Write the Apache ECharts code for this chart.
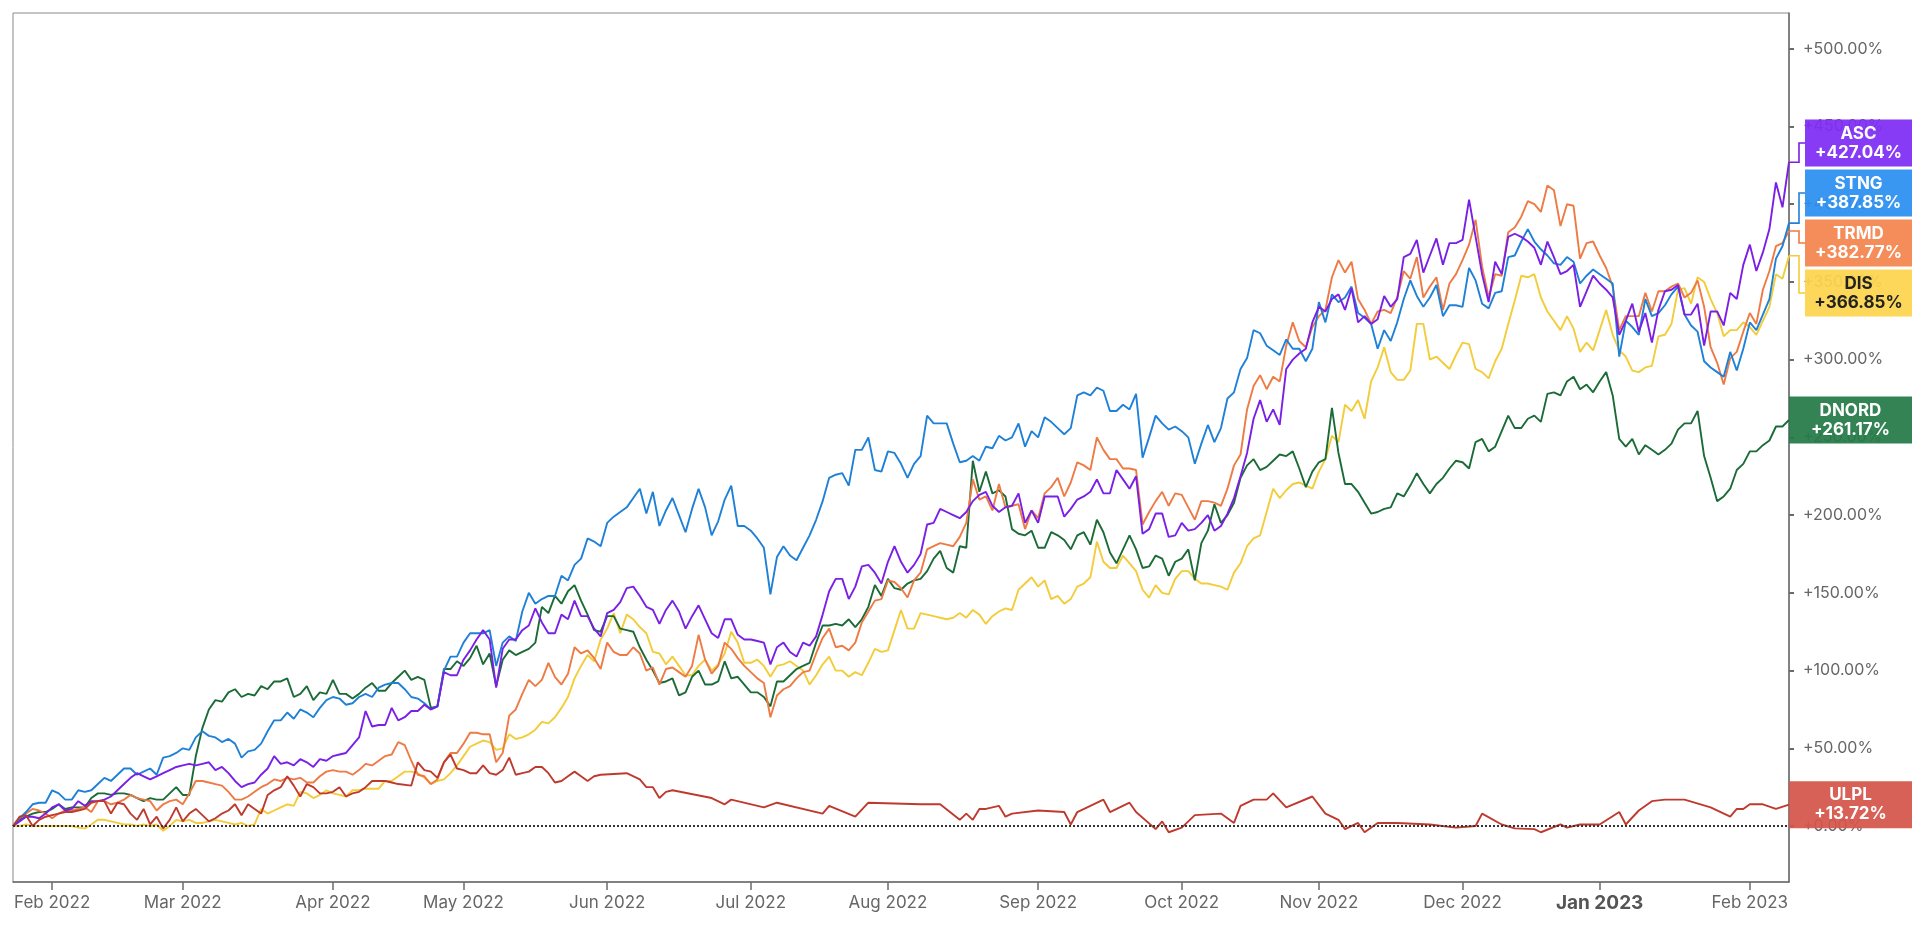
<!DOCTYPE html>
<html>
<head>
<meta charset="utf-8">
<title>ASC, STNG, TRMD, DIS, DNORD, ULPL - % change</title>
<script src="https://cdn.jsdelivr.net/npm/echarts@6/dist/echarts.min.js"></script>
<style>
  html, body { margin: 0; padding: 0; background: #fff; }
  #chart { width: 1920px; height: 929px; }
</style>
</head>
<body>
<div id="chart"></div>
<script>
// x = trading day number (0 = 24 Jan 2022), y = % change since day 0
var monthTicks  = [6, 26, 49, 69, 91, 113, 134, 157, 179, 200, 222, 243, 266];
var monthLabels = ['Feb 2022', 'Mar 2022', 'Apr 2022', 'May 2022', 'Jun 2022', 'Jul 2022',
                   'Aug 2022', 'Sep 2022', 'Oct 2022', 'Nov 2022', 'Dec 2022', 'Jan 2023', 'Feb 2023'];
var pctTicks = [0, 50, 100, 150, 200, 250, 300, 350, 400, 450, 500];

var tickers = ['ASC', 'STNG', 'TRMD', 'DIS', 'DNORD', 'ULPL'];

var asc = [
  0,3,6,6,5,8,12,14,10,11, 16,13,16,16,17,19,23,27,31,34, 32,30,32,34,36,38,39,40,39,40,
  41,36,38,34,29,25,27,28,33,37, 45,40,41,39,43,41,38,43,42,45, 46,47,52,57,74,64,65,65,76,68,
  70,74,74,78,75,77,99,97,97,107, 113,120,126,120,89,114,120,120,126,129, 140,131,124,124,136,133,145,135,135,127,
  122,137,139,144,153,154,148,141,139,130, 139,145,138,127,135,142,133,124,121,133, 133,123,120,120,119,118,104,115,118,112,
  109,118,116,122,136,151,159,159,146,154, 167,168,163,156,170,180,170,163,168,175, 194,195,204,202,200,198,202,209,213,215,
  206,202,205,206,214,195,203,195,212,212, 212,199,204,210,212,215,223,214,214,229, 223,217,225,188,191,201,201,186,187,195,
  190,191,195,200,190,193,201,211,225,240, 262,274,260,268,258,294,300,304,307,324, 334,331,339,342,332,346,324,328,323,326,
  341,334,339,366,368,377,356,367,378,361, 375,375,377,403,379,355,337,363,355,379, 381,379,376,372,361,376,366,355,357,361,
  334,344,354,349,345,340,316,325,336,318, 330,311,332,344,345,348,329,329,336,309, 331,331,322,343,339,361,374,357,369,384,
  414,398,427.04
];

var stng = [
  0,5,9,14,15,15,23,21,17,17, 23,22,23,27,31,29,33,37,37,33, 35,37,33,44,45,47,50,49,57,61,
  58,57,54,56,53,44,48,49,53,61, 68,68,73,69,75,73,70,76,81,83, 82,78,79,83,85,83,89,91,92,92,
  88,83,82,79,75,77,100,109,109,118, 124,124,124,126,103,118,122,119,138,150, 143,146,148,148,161,158,168,172,185,183,
  180,195,199,202,205,211,217,201,215,193, 203,211,200,189,204,217,205,187,196,210, 219,193,193,190,185,179,149,173,180,174,
  171,179,187,197,209,224,226,227,219,242, 242,250,229,228,241,240,233,224,233,238, 264,259,259,259,246,234,235,238,235,244,
  243,251,248,250,259,244,254,250,263,260, 256,252,256,277,279,277,282,280,267,267, 271,268,278,237,250,264,259,255,257,254,
  250,233,246,258,247,256,275,279,294,301, 319,317,309,306,303,313,307,307,299,307, 337,324,342,337,340,347,330,327,323,307,
  319,312,324,339,351,341,334,340,348,328, 335,335,334,359,351,336,333,343,344,366, 367,376,384,376,371,367,362,361,366,363,
  349,354,358,355,352,349,302,325,321,316, 339,328,330,335,342,347,329,322,318,299, 295,292,289,305,293,307,324,319,329,339,
  365,373,387.85
];

var trmd = [
  0,5,8,11,10,8,5,8,10,10, 11,12,9,16,16,14,15,17,20,18, 17,16,10,14,16,17,14,21,29,29,
  28,27,26,22,17,17,19,22,25,27, 30,29,31,30,31,28,28,32,35,36, 35,35,33,36,40,39,42,45,46,54,
  52,42,33,32,27,30,41,47,47,53, 60,60,59,59,41,47,71,75,85,94, 90,94,105,96,91,98,115,111,113,108,
  101,118,112,110,110,115,111,100,102,91, 101,102,99,96,103,123,107,98,103,118, 114,108,103,99,95,92,70,84,88,90,
  95,99,100,111,121,127,115,116,113,118, 131,138,145,146,158,157,153,147,158,163, 178,180,182,181,180,186,195,223,210,212,
  203,220,205,206,207,191,203,198,214,218, 224,212,221,234,232,229,250,242,236,236, 230,230,229,194,202,209,215,206,214,213,
  205,197,209,209,208,206,217,232,239,268, 283,290,281,289,286,309,324,312,308,321, 328,332,353,364,356,363,339,332,323,331,
  332,330,340,357,352,366,340,347,353,332, 349,355,364,374,390,360,340,355,354,382, 385,392,402,400,395,412,409,386,400,399,
  365,375,376,367,359,347,319,328,328,328, 343,331,344,344,347,349,340,343,351,334, 308,298,284,301,305,318,330,323,345,357,
  373,375,382.77
];

var dis = [
  0,0,1,0,0,0,0,0,0,0, -1,-1.5,1,4,4,3,2,1,1,0, 1,0,1,-3,0,4,3,4,2,2,
  3,4,3,2,1,2,0,1,11,8, 10,12,14,13,22,21,18,20,23,21, 20,19,23,23,24,24,24,29,29,32,
  35,35,34,31,27,29,30,34,39,45, 51,53,55,54,49,50,59,56,57,59, 62,67,66,70,76,83,95,103,110,106,
  120,127,137,124,136,133,128,124,112,111, 104,109,103,97,97,103,107,100,104,111, 125,118,105,105,107,103,96,103,104,106,
  103,100,91,97,104,109,100,100,96,99, 97,105,114,112,113,126,139,127,127,137, 136,135,134,133,134,137,134,139,136,130,
  135,138,140,139,152,156,160,154,158,146, 148,143,146,154,156,160,183,170,166,166, 174,169,164,152,147,155,150,149,159,164,
  164,159,156,156,155,154,152,163,169,180, 185,187,202,217,211,216,220,221,219,217, 228,236,251,247,271,267,274,262,286,295,
  308,292,287,287,293,323,323,300,302,298, 294,303,311,310,294,292,288,299,307,323, 338,354,353,355,340,331,325,319,328,320,
  305,311,306,319,332,316,306,302,293,292, 295,296,315,316,323,345,346,336,353,350, 339,330,315,319,319,324,321,316,325,334,
  355,352,366.85
];

var dnord = [
  0,4,6,8,9,9,11,14,11,12, 12,12,18,21,21,20,21,21,20,18, 16,18,17,17,21,25,20,20,45,63,
  75,81,80,86,88,83,85,84,90,88, 93,93,95,83,85,90,81,86,85,94, 85,85,82,85,89,92,87,87,92,96,
  100,94,96,94,76,77,101,101,106,103, 108,116,104,111,90,107,113,110,112,114, 118,141,137,148,143,151,155,145,136,126,
  125,135,135,127,126,125,115,107,100,92, 93,95,84,86,96,100,91,91,93,106, 95,96,91,86,86,83,77,93,93,97,
  101,103,105,118,129,129,130,129,133,128, 133,141,155,148,159,153,152,156,158,159, 164,172,177,166,163,180,179,235,215,228,
  214,216,212,191,188,187,190,179,179,189, 187,184,178,187,189,181,197,189,176,169, 178,187,178,166,167,174,172,161,170,172,
  178,158,182,190,207,195,200,208,224,232, 236,229,231,235,239,238,241,230,218,228, 234,236,269,240,220,220,215,208,201,202,
  204,205,214,212,219,227,220,214,220,224, 230,235,234,230,247,249,241,244,254,264, 256,256,262,264,260,278,279,277,286,289,
  281,284,279,286,292,277,249,244,249,239, 245,242,239,242,246,255,259,259,267,238, 224,209,212,217,229,233,241,241,245,248,
  257,257,261.17
];

// ULPL trades thinly: only the days it printed, as [day, %]
var ulpl = [
  [0,0],[1,6],[2,7],[3,0],[4,4],[5,6],[6,7],[7,8],[8,9],[9,9],[10,10],[11,11],[12,15],[13,16],[14,16],[15,8],
  [16,15],[17,14],[18,8],[19,4],[20,11],[21,1],[22,6],[23,-1.5],[24,4],[25,12],[26,3],[27,8],[28,11],[29,7],
  [30,3],[31,5],[32,8],[33,10],[34,14],[35,7],[36,14],[37,11],[38,8],[39,20],[40,23],[41,25],[42,32],[43,26],
  [44,19],[45,27],[46,25],[47,21],[48,21],[49,22],[50,25],[51,19],[52,21],[53,22],[54,25],[55,29],[56,29],
  [57,29],[58,28],[59,27],[61,26],[62,41],[63,36],[64,35],[65,31],[66,41],[67,46],[68,37],[69,36],[70,34],
  [71,34],[72,39],[73,34],[74,33],[75,36],[76,44],[77,33],[78,34],[79,35],[80,38],[81,38],[82,34],[83,28],
  [84,29],[85,32],[86,35],[87,32],[88,29],[89,32],[90,33],[94,34],[96,30],[97,25],[98,25],[99,18],[100,22],
  [101,23],[107,18],[109,14],[110,17],[115,12],[117,15],[124,8],[125,13],[129,6],[131,15],[139,14],[141,14],
  [142,14],[145,4],[146,8],[147,4],[148,11],[149,11],[151,13],[152,6],[153,8],[157,10],[161,9],[162,1],[163,9],
  [167,17],[168,9],[171,15],[172,9],[175,-2],[176,3],[177,-4],[179,-1],[181,7],[185,8],[187,2],[188,13],
  [190,17],[192,17],[193,21],[195,12],[199,19],[201,8],[203,4],[204,-2],[206,2],[207,-4],[209,2],[212,2],
  [217,1],[221,-1],[224,0],[225,8],[228,1],[230,-1.5],[233,-2],[234,-4],[237,1],[238,-1],[240,1],[243,1],
  [246,9],[247,1],[249,10],[251,16],[253,17],[256,17],[260,12],[263,6],[264,11],[265,11],[266,14],[268,14],
  [270,11],[272,13.72]
];

var lineColors = { ASC: '#7a1fe6', STNG: '#1f80d8', TRMD: '#ee7a44', DIS: '#f3cc3a', DNORD: '#1b6b37', ULPL: '#bf3a2e' };
var boxColors  = { ASC: '#7f2cf3', STNG: '#2a8ff0', TRMD: '#f4844f', DIS: '#fcd44e', DNORD: '#247a47', ULPL: '#d4544a' };
var boxText    = { ASC: '#fff', STNG: '#fff', TRMD: '#fff', DIS: '#222', DNORD: '#fff', ULPL: '#fff' };

function byDay(arr) {
  return arr.map(function (v, i) { return [i, v]; });
}
var seriesData = {
  ASC: byDay(asc), STNG: byDay(stng), TRMD: byDay(trmd),
  DIS: byDay(dis), DNORD: byDay(dnord), ULPL: ulpl
};

var chart = echarts.init(document.getElementById('chart'));

// draw order: lower lines first, ULPL on top
var drawOrder = ['DIS', 'DNORD', 'TRMD', 'STNG', 'ASC', 'ULPL'];
var series = drawOrder.map(function (t) {
  var s = {
    name: t,
    type: 'line',
    data: seriesData[t],
    showSymbol: false,
    symbol: 'none',
    connectNulls: true,
    lineStyle: { color: lineColors[t], width: 1.9 },
    itemStyle: { color: lineColors[t] },
    emphasis: { disabled: true },
    animation: false
  };
  if (t === 'ULPL') {
    s.markLine = {
      silent: true,
      symbol: 'none',
      label: { show: false },
      lineStyle: { color: '#333', type: [2, 2], width: 1.8 },
      data: [{ yAxis: 0 }],
      animation: false
    };
  }
  return s;
});

chart.setOption({
  backgroundColor: '#fff',
  textStyle: { fontFamily: 'Inter, "Noto Sans", sans-serif' },
  animation: false,
  grid: {
    left: 13, right: 131, top: 13, bottom: 47,
    show: true, borderColor: '#8a8a8a', borderWidth: 1
  },
  xAxis: {
    type: 'value',
    min: 0,
    max: 272,
    axisLine: { show: true, onZero: false, lineStyle: { color: '#6b6b6b', width: 1.5 } },
    axisTick: { show: true, customValues: monthTicks, length: 8, lineStyle: { color: '#6b6b6b', width: 1.5 } },
    axisLabel: {
      customValues: monthTicks,
      margin: 12,
      color: '#666',
      fontSize: 17,
      formatter: function (v) {
        var s = monthLabels[monthTicks.indexOf(Math.round(v))] || '';
        return s.indexOf('Jan') === 0 ? '{yr|' + s + '}' : s;
      },
      rich: { yr: { fontSize: 19, fontWeight: 'bold', color: '#555' } }
    },
    splitLine: { show: false }
  },
  yAxis: {
    type: 'value',
    position: 'right',
    min: -36,
    max: 523,
    axisLine: { show: true, onZero: false, lineStyle: { color: '#6b6b6b', width: 1.5 } },
    axisTick: { show: true, customValues: pctTicks, length: 5, lineStyle: { color: '#6b6b6b', width: 2 } },
    axisLabel: {
      customValues: pctTicks,
      margin: 14,
      color: '#666',
      fontSize: 16,
      formatter: function (v) { return '+' + v.toFixed(2) + '%'; }
    },
    splitLine: { show: false }
  },
  series: series
});

// last-value tags on the right edge, pushed apart when they would overlap
function lastPoint(t) {
  var d = seriesData[t];
  return d[d.length - 1];
}

var tagH = 47, tagGap = 50;
var axisX = chart.convertToPixel({ xAxisIndex: 0 }, 272);
var tagRight = 1912;

var tags = tickers.map(function (t) {
  var p = lastPoint(t);
  return { name: t, value: p[1], y: chart.convertToPixel({ yAxisIndex: 0 }, p[1]) };
});
tags.sort(function (a, b) { return a.y - b.y; });

var groups = tags.map(function (tg) { return { members: [tg], center: tg.y }; });
var merged = true;
while (merged) {
  merged = false;
  for (var i = 0; i < groups.length - 1; i++) {
    var a = groups[i], b = groups[i + 1];
    var aBottom = a.center + (a.members.length - 1) * tagGap / 2;
    var bTop = b.center - (b.members.length - 1) * tagGap / 2;
    if (bTop - aBottom < tagGap) {
      var members = a.members.concat(b.members);
      var mean = members.reduce(function (s, m) { return s + m.y; }, 0) / members.length;
      groups.splice(i, 2, { members: members, center: mean });
      merged = true;
      break;
    }
  }
}

var elements = [];
groups.forEach(function (g) {
  var n = g.members.length;
  g.members.forEach(function (m, j) {
    var ty = g.center + (j - (n - 1) / 2) * tagGap;
    var shifted = n > 1;
    var bx = shifted ? axisX + 16 : axisX;
    if (shifted) {
      elements.push({
        type: 'polyline',
        z: 100,
        shape: { points: [[axisX, m.y], [axisX + 10, m.y], [axisX + 10, ty], [bx, ty]] },
        style: { stroke: lineColors[m.name], lineWidth: 1.6, fill: null }
      });
    }
    elements.push({
      type: 'rect',
      z: 101,
      shape: { x: bx, y: ty - tagH / 2, width: tagRight - bx, height: tagH },
      style: { fill: boxColors[m.name], opacity: 0.93 }
    });
    elements.push({
      type: 'text',
      z: 102,
      style: {
        text: m.name + '\n+' + m.value.toFixed(2) + '%',
        x: (bx + tagRight) / 2,
        y: ty,
        align: 'center',
        verticalAlign: 'middle',
        fill: boxText[m.name],
        font: 'bold 17px Inter, "Noto Sans", sans-serif',
        lineHeight: 19
      }
    });
  });
});

chart.setOption({ graphic: { elements: elements } });
</script>
</body>
</html>
